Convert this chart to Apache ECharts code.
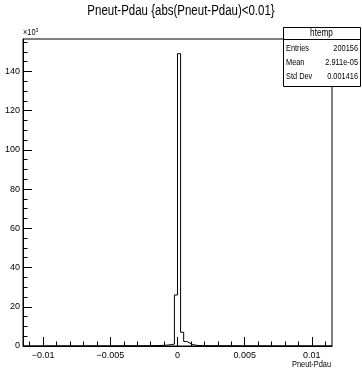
<!DOCTYPE html>
<html>
<head>
<meta charset="utf-8">
<script src="https://cdn.jsdelivr.net/npm/echarts@6/dist/echarts.min.js"></script>
<style>
  html, body { margin: 0; padding: 0; background: #fff; }
  #chart { width: 362px; height: 373px; }
</style>
</head>
<body>
<div id="chart"></div>
<script>
// histogram binning (100 bins, ROOT htemp)
const xLow = -0.0115;
const xHigh = 0.0115;
const nBins = 100;

// bin contents
const counts = [
  0, 0, 0, 0, 0, 0, 20,
  40, 45, 42, 48, 50, 47, 52, 55, 51, 58, 60, 57, 62, 66, 63, 70, 72, 75,
  78, 74, 82, 88, 85, 92, 98, 104, 110, 118, 125, 133, 142, 155, 170, 185,
  205, 230, 260, 300,
  380, 520, 700, 950, 26000, 149000, 7000, 2300, 1500, 700, 380,
  250, 210, 180, 160, 145, 130, 120, 112, 105, 98, 92, 88, 84, 80, 76, 73,
  70, 67, 64, 61, 58, 56, 54, 52, 50, 48, 46, 44, 42, 41, 40, 39, 38, 37,
  38, 36, 35,
  18,
  0, 0, 0, 0, 0, 0
];

const yMax = 156500;
const xLabelValues = [-0.01, -0.005, 0, 0.005, 0.01];
const xMinorValues = [-0.011, -0.01, -0.009, -0.008, -0.007, -0.006, -0.005, -0.004, -0.003, -0.002, -0.001,
  0, 0.001, 0.002, 0.003, 0.004, 0.005, 0.006, 0.007, 0.008, 0.009, 0.01, 0.011];
const yLabelValues = [0, 20000, 40000, 60000, 80000, 100000, 120000, 140000];
const yMinorValues = [0, 5000, 10000, 15000, 20000, 25000, 30000, 35000, 40000, 45000, 50000, 55000, 60000,
  65000, 70000, 75000, 80000, 85000, 90000, 95000, 100000, 105000, 110000, 115000, 120000, 125000,
  130000, 135000, 140000, 145000, 150000, 155000];

const statNames = ['Entries', 'Mean', 'Std Dev'];
const statValues = ['200156', '2.911e-05', '0.001416'];

const FONT = "'Liberation Sans', Arial, sans-serif";
const SQ = 0.82; // horizontal squeeze to mimic ROOT's narrow helvetica

const binWidth = (xHigh - xLow) / nBins;
const stepData = counts.map((c, i) => [xLow + i * binWidth, c]);
stepData.push([xHigh, counts[counts.length - 1]]);

const chart = echarts.init(document.getElementById('chart'), null, { renderer: 'canvas' });

const statGraphics = [];
statNames.forEach((name, i) => {
  statGraphics.push({
    type: 'text', x: 286, y: 44 + i * 14, z: 101, scaleX: SQ,
    style: { text: name, font: '9px ' + FONT, fill: '#000' }
  });
  statGraphics.push({
    type: 'text', x: 358, y: 44 + i * 14, z: 101, scaleX: SQ,
    style: { text: statValues[i], font: '9px ' + FONT, fill: '#000', align: 'right' }
  });
});

const axisFont = { fontFamily: FONT, fontSize: 9, color: '#000' };

chart.setOption({
  animation: false,
  backgroundColor: '#fff',
  grid: {
    left: 23, right: 30, top: 39, bottom: 27,
    show: true, borderColor: '#000', borderWidth: 1, backgroundColor: 'transparent'
  },
  xAxis: [{
    type: 'value', min: xLow, max: xHigh,
    axisLine: { onZero: false, lineStyle: { color: '#000', width: 1 } },
    splitLine: { show: false },
    axisTick: { inside: true, length: 9, lineStyle: { color: '#000' }, customValues: xLabelValues },
    axisLabel: Object.assign({
      customValues: xLabelValues, margin: 5,
      formatter: v => (v < 0 ? '\u2212' : '') + String(Math.abs(v))
    }, axisFont)
  }, {
    type: 'value', min: xLow, max: xHigh, position: 'bottom',
    axisLine: { show: false, onZero: false },
    splitLine: { show: false },
    axisLabel: { show: false },
    axisTick: { inside: true, length: 4.5, lineStyle: { color: '#000' }, customValues: xMinorValues }
  }],
  yAxis: [{
    type: 'value', min: 0, max: yMax,
    axisLine: { show: true, onZero: false, lineStyle: { color: '#000', width: 1 } },
    splitLine: { show: false },
    axisTick: { show: true, inside: true, length: 9, lineStyle: { color: '#000' }, customValues: yLabelValues },
    axisLabel: Object.assign({
      customValues: yLabelValues, margin: 3,
      formatter: v => String(v / 1000)
    }, axisFont)
  }, {
    type: 'value', min: 0, max: yMax, position: 'left',
    axisLine: { show: false, onZero: false },
    splitLine: { show: false },
    axisLabel: { show: false },
    axisTick: { show: true, inside: true, length: 4.5, lineStyle: { color: '#000' }, customValues: yMinorValues }
  }],
  series: [{
    type: 'line',
    step: 'end',
    xAxisIndex: 0, yAxisIndex: 0,
    data: stepData,
    symbol: 'none',
    lineStyle: { color: '#000', width: 1 }
  }],
  graphic: [
    {
      type: 'text', x: 181, y: 4, z: 100, scaleX: SQ,
      style: {
        text: 'Pneut-Pdau {abs(Pneut-Pdau)<0.01}', font: '14px ' + FONT,
        fill: '#000', align: 'center'
      }
    },
    {
      type: 'text', x: 23, y: 27, z: 100, scaleX: SQ,
      style: {
        text: '\u00d710{s|3}', font: '9px ' + FONT, fill: '#000',
        rich: { s: { fontSize: 6, verticalAlign: 'top', padding: [0, 0, 5, 0], fontFamily: FONT } }
      }
    },
    {
      type: 'text', x: 331, y: 360, z: 100, scaleX: SQ,
      style: { text: 'Pneut-Pdau', font: '9px ' + FONT, fill: '#000', align: 'right' }
    },
    {
      type: 'rect', x: 283.5, y: 27.5, z: 99,
      shape: { width: 77, height: 59 },
      style: { fill: '#fff', stroke: '#000', lineWidth: 1 }
    },
    {
      type: 'line', z: 100,
      shape: { x1: 283.5, y1: 39.5, x2: 360.5, y2: 39.5 },
      style: { stroke: '#000', lineWidth: 1 }
    },
    {
      type: 'text', x: 321.5, y: 28, z: 101, scaleX: SQ,
      style: { text: 'htemp', font: '10px ' + FONT, fill: '#000', align: 'center' }
    }
  ].concat(statGraphics)
});
</script>
</body>
</html>
